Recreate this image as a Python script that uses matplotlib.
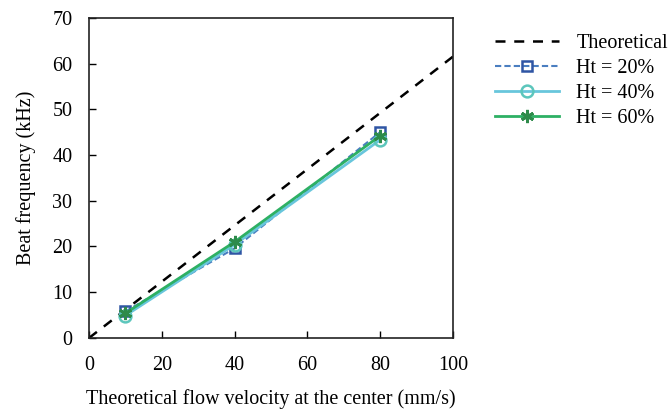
import matplotlib
matplotlib.use("Agg")
import matplotlib.pyplot as plt
import numpy as np

plt.rcParams['font.family'] = ['Liberation Serif', 'DejaVu Serif']

theory_x = [0, 100]
theory_y = [0, 61.5]
velocity = [10, 40, 80]
ht20 = [5.8, 19.6, 45.0]
ht40 = [4.9, 20.4, 43.3]
ht60 = [5.4, 21.0, 44.2]

FS = 14.5

fig = plt.figure(figsize=(6.69, 4.09), dpi=100)
ax = fig.add_axes([0.133, 0.1736, 0.544, 0.783])

ax.plot(theory_x, theory_y, color='black', linestyle=(0, (4, 3.5)), linewidth=1.8, label='Theoretical')
ax.plot(velocity, ht20, color='#4A7EC0', linestyle=(0, (3, 1.5)), linewidth=1.5,
        marker='s', markersize=6.5, markerfacecolor='none', markeredgecolor='#2F55A4',
        markeredgewidth=1.8, label='Ht = 20%')
ax.plot(velocity, ht40, color='#68C6DC', linewidth=2.0,
        marker='o', markersize=8.5, markerfacecolor='none', markeredgecolor='#5CC6BC',
        markeredgewidth=1.8, label='Ht = 40%')
ax.plot(velocity, ht60, color='#2DB064', linewidth=2.0,
        marker=(6, 2, 0), markersize=9.5, markeredgecolor='#2E8B4A',
        markeredgewidth=2.0, label='Ht = 60%')

ax.set_xlim(0, 100)
ax.set_ylim(0, 70)
ax.set_xticks(np.arange(0, 101, 20))
ax.set_yticks(np.arange(0, 71, 10))
ax.tick_params(direction='in', length=5, width=1, labelsize=FS)
ax.tick_params(axis='x', pad=13)
ax.tick_params(axis='y', pad=12)
for s in ax.spines.values():
    s.set_linewidth(1.2)
    s.set_color('#222222')

ax.set_xlabel('Theoretical flow velocity at the center (mm/s)', fontsize=FS, labelpad=10)
ax.set_ylabel('Beat frequency (kHz)', fontsize=FS, labelpad=12)

fig.legend(loc='upper left', bbox_to_anchor=(0.7395, 0.916), frameon=False,
           fontsize=FS, handlelength=3.2, labelspacing=0.28, handletextpad=0.85,
           borderaxespad=0, borderpad=0)

fig.savefig('out.png', dpi=100)
